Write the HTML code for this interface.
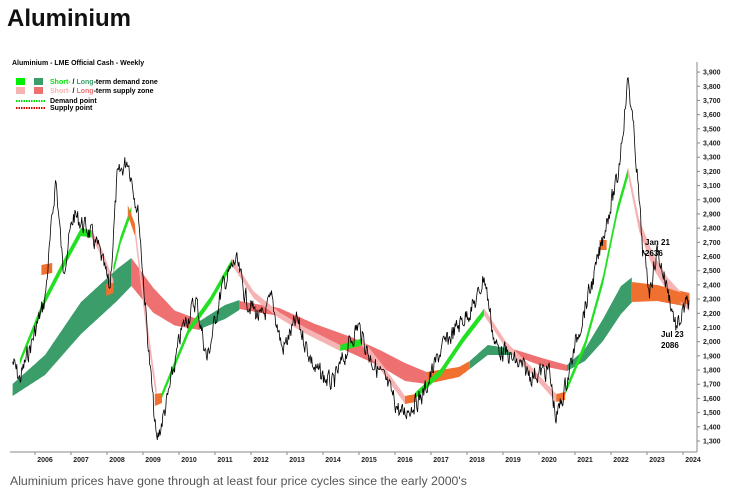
<!DOCTYPE html>
<html><head><meta charset="utf-8"><style>
body{margin:0;width:735px;height:494px;background:#fff;overflow:hidden;font-family:"Liberation Sans",sans-serif;position:relative}
.t{position:absolute;left:7px;top:5px;font-size:24px;font-weight:bold;color:#111}
.cap{position:absolute;left:10px;top:474px;font-size:12.3px;color:#555}
svg{position:absolute;left:0;top:0}
svg text{font-family:"Liberation Sans",sans-serif}
</style></head><body>
<div class="t">Aluminium</div>
<svg id="s" width="735" height="494" xmlns="http://www.w3.org/2000/svg">
<g id="bands"></g>
<path id="price" fill="none" stroke="#000" stroke-width="0.8"/>
<line x1="697" y1="62" x2="697" y2="452" stroke="#888" stroke-width="1"/>
<line x1="10" y1="452" x2="697" y2="452" stroke="#888" stroke-width="1"/>
<g id="axes" font-size="7" font-weight="bold" fill="#222"></g>
<text x="12" y="65" font-size="7" font-weight="bold">Aluminium - LME Official Cash - Weekly</text>
<rect x="16" y="78" width="9" height="7" fill="#00ee00"/><rect x="34" y="78" width="9" height="7" fill="#3a9d6a"/>
<rect x="16" y="87" width="9" height="7" fill="#f7b3b3"/><rect x="34" y="87" width="9" height="7" fill="#ef7070"/>
<text x="50" y="84" font-size="7" font-weight="bold"><tspan fill="#00dd00">Short-</tspan> / <tspan fill="#3a9d6a">Long</tspan>-term demand zone</text>
<text x="50" y="93" font-size="7" font-weight="bold"><tspan fill="#f7b3b3">Short-</tspan> / <tspan fill="#ef7070">Long</tspan>-term supply zone</text>
<line x1="16" y1="101" x2="45" y2="101" stroke="#00dd00" stroke-width="2" stroke-dasharray="1.5,1"/>
<line x1="16" y1="108" x2="45" y2="108" stroke="#dd0000" stroke-width="2" stroke-dasharray="1.5,1"/>
<text x="50" y="103" font-size="7" font-weight="bold">Demand point</text>
<text x="50" y="110" font-size="7" font-weight="bold">Supply point</text>
<text x="645" y="245" font-size="8" font-weight="bold">Jan 21</text>
<text x="645" y="256" font-size="8" font-weight="bold">2636</text>
<text x="661" y="337" font-size="8" font-weight="bold">Jul 23</text>
<text x="661" y="348" font-size="8" font-weight="bold">2086</text>
</svg>
<div class="cap">Aluminium prices have gone through at least four price cycles since the early 2000's</div>
<script>
const X=t=>45+(t-2006)*36;
const ax=document.getElementById('axes');
for(let v=1300;v<=3900;v+=100){const y=441-(v-1300)*0.1419;
 ax.insertAdjacentHTML('beforeend',`<line x1="697" y1="${y}" x2="700" y2="${y}" stroke="#888"/><text x="703" y="${y+2.5}">${v.toLocaleString('en-US')}</text>`);}
for(let yr=2006;yr<=2024;yr++){const x=X(yr);
 ax.insertAdjacentHTML('beforeend',`<line x1="${x-10}" y1="452" x2="${x-10}" y2="455" stroke="#888"/><text x="${x}" y="462" text-anchor="middle">${yr}</text>`);}
function interp(pts,t){for(let i=0;i<pts.length-1;i++){if(t>=pts[i][0]&&t<=pts[i+1][0]){const f=(t-pts[i][0])/(pts[i+1][0]-pts[i][0]);return pts[i].slice(1).map((v,k)=>v+(pts[i+1][k+1]-v)*f);}}return pts[pts.length-1].slice(1);}
function band(pts,color){let top=[],bot=[];const t0=pts[0][0],t1=pts[pts.length-1][0];
 for(let t=t0;t<=t1+1e-6;t+=0.05){const [c,th]=interp(pts,Math.min(t,t1));top.push(X(t).toFixed(1)+','+(c-th/2).toFixed(1));bot.unshift(X(t).toFixed(1)+','+(c+th/2).toFixed(1));}
 document.getElementById('bands').insertAdjacentHTML('beforeend',`<polygon points="${top.concat(bot).join(' ')}" fill="${color}"/>`);}
const G='#3a9d6a',R='#ef7070',O='#f07030',LG='#22e022',P='#f7b3b3';
band([[2005.1,390,12],[2006,365,20],[2007,318,32],[2008,285,32],[2008.4,272,28]],G);
band([[2008.4,272,28],[2009,300,25],[2009.6,318,15],[2010.3,325,10]],R);
band([[2010.3,325,8],[2011,312,14],[2011.4,305,10]],G);
band([[2011.4,305,8],[2012.5,312,8],[2013.5,330,12],[2014.5,345,16],[2015.3,358,16],[2016,372,18],[2016.6,378,12]],R);
band([[2016.6,378,12],[2017.5,372,10],[2017.8,365,8]],O);
band([[2017.8,365,8],[2018.3,350,10],[2019,352,6]],G);
band([[2019,352,6],[2019.8,362,8],[2020.5,368,6]],R);
band([[2020.5,368,6],[2021,355,12],[2021.5,330,22],[2022,300,28],[2022.3,290,25]],G);
band([[2022.3,292,20],[2023,293,16],[2023.9,300,14]],O);
band([[2005.3,362,6],[2006,300,8],[2006.5,265,8],[2007,232,8],[2007.3,234,7]],LG);
band([[2005.9,270,10],[2006.2,268,10]],O);
band([[2007.3,234,7],[2007.6,255,8],[2007.9,285,10]],P);
band([[2007.7,290,12],[2007.9,288,10]],O);
band([[2007.9,270,8],[2008.1,240,8],[2008.4,210,8]],LG);
band([[2008.3,210,10],[2008.5,230,12]],O);
band([[2008.5,230,12],[2008.8,320,14],[2009.1,395,12]],P);
band([[2009.05,400,12],[2009.25,398,10]],O);
band([[2009.25,395,6],[2010,330,7],[2010.6,300,7],[2011.2,262,7]],LG);
band([[2011.2,262,7],[2011.8,295,7],[2012.5,315,6],[2013.2,330,6],[2014.2,348,6]],P);
band([[2014.2,348,6],[2014.8,342,7]],LG);
band([[2014.8,342,7],[2015.4,370,8],[2016,400,8]],P);
band([[2016,400,8],[2016.3,398,8]],O);
band([[2016.3,395,6],[2017,372,7],[2017.6,340,7],[2018.2,312,7]],LG);
band([[2018.2,312,7],[2018.8,345,7],[2019.5,370,7],[2020.2,398,8]],P);
band([[2020.2,398,8],[2020.45,396,8]],O);
band([[2020.45,392,6],[2021,345,8],[2021.5,280,9],[2021.9,210,9],[2022.2,172,9]],LG);
band([[2021.4,245,10],[2021.6,245,10]],O);
band([[2022.2,172,9],[2022.5,225,12],[2022.9,262,14],[2023.3,285,14],[2023.9,306,10]],P);
band([[2023.0,290,10],[2023.9,300,10]],O);
const K=[[2005.1,362],[2005.3,380],[2006,300],[2006.3,178],[2006.5,270],[2006.8,215],[2007.2,230],[2007.5,250],[2007.8,290],[2008,180],[2008.3,158],[2008.6,215],[2008.9,360],[2009.1,443],[2009.4,400],[2009.8,330],[2010.2,300],[2010.5,360],[2010.9,290],[2011.3,260],[2011.6,300],[2012,320],[2012.3,300],[2012.6,350],[2013,320],[2013.5,370],[2014,385],[2014.5,340],[2014.7,325],[2015,355],[2015.5,385],[2015.9,415],[2016.5,395],[2017,350],[2017.5,325],[2018,300],[2018.2,275],[2018.5,345],[2019,360],[2019.5,375],[2020,370],[2020.2,420],[2020.5,380],[2020.9,320],[2021.3,270],[2021.6,220],[2021.9,180],[2022.2,78],[2022.4,150],[2022.6,250],[2022.8,290],[2023,250],[2023.3,290],[2023.55,330],[2023.75,310],[2023.9,300]];
let s=7,d='';const rnd=()=>{s=(s*9301+49297)%233280;return s/233280;};
let n=0;
for(let t=2005.1;t<=2023.9;t+=1/52){const [y]=interp(K,t);n=n*0.4+(rnd()-0.5)*18;const yy=Math.max(75,Math.min(445,y+n));d+=(d?'L':'M')+X(t).toFixed(1)+','+yy.toFixed(1);}
document.getElementById('price').setAttribute('d',d);
</script>
</body></html>
